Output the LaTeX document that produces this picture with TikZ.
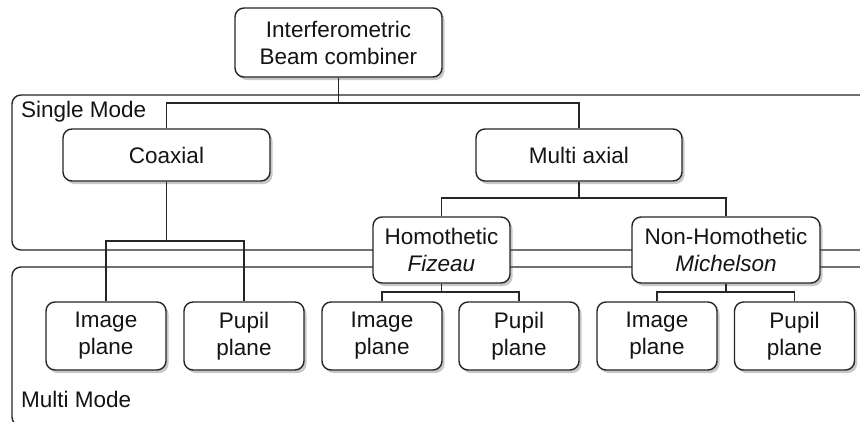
\documentclass[tikz,border=0pt]{standalone}
\usepackage{fontspec}
\setmainfont{Liberation Sans}
\usetikzlibrary{shadows}
\begin{document}
\begin{tikzpicture}[x={(1pt,0)},y={(0,-1pt)},
  line/.style={line width=1.4pt,draw=black!85},
  frame/.style={line width=1.4pt,draw=black!85,rounded corners=9pt},
  box/.style={draw=black!85,line width=1.4pt,fill=white,rounded corners=9pt,
    align=center,inner sep=0pt,text=black!92,
    font=\fontsize{22.5}{27}\selectfont,
    drop shadow={shadow xshift=2.5pt,shadow yshift=-3pt,opacity=0.3,fill=black!70}},
  lbl/.style={anchor=base west,inner sep=0pt,text=black!92,font=\fontsize{22.5}{27}\selectfont}]
\useasboundingbox (0,0) rectangle (860,421);
\fill[white] (0,0) rectangle (860,421);

% mode frames, open towards the right edge
\draw[frame] (880,95) -- (12,95) -- (12,250) -- (880,250);
\draw[frame] (880,267) -- (12,267) -- (12,426) -- (880,426);
\node[lbl] (sm) at (21,117) {Single Mode};
\node[lbl] (mm) at (21,407) {Multi Mode};

% junction points of the connectors
\coordinate (j0) at (338.5,103);
\coordinate (j1) at (166.5,241);
\coordinate (j2) at (579,198);
\coordinate (j3) at (441.5,292);
\coordinate (j4) at (726,292);

% boxes
\node[box,minimum width=207pt,minimum height=69pt] (top) at (338.5,42.5) {Interferometric\\Beam combiner};
\node[box,minimum width=207pt,minimum height=52pt] (coax) at (166.5,155) {Coaxial};
\node[box,minimum width=206pt,minimum height=52pt] (multi) at (579,155) {Multi axial};
\node[box,minimum width=137pt,minimum height=66pt] (homo) at (441.5,250) {Homothetic\\\itshape Fizeau};
\node[box,minimum width=188pt,minimum height=66pt] (nonhomo) at (726,250) {Non-Homothetic\\\itshape Michelson};
\foreach \n/\x/\t in {img1/106/Image, pup1/244/Pupil, img2/382/Image, pup2/519/Pupil, img3/657/Image, pup3/794.5/Pupil}
  \node[box,minimum width=120pt,minimum height=68pt] (\n) at (\x,336) {\t\\plane};

% connectors
\draw[line] (top.south) -- (j0);
\draw[line] (coax.north) |- (j0) -| (multi.north);
\draw[line] (coax.south) -- (j1);
\draw[line] (img1.north) |- (j1) -| (pup1.north);
\draw[line] (multi.south) -- (j2);
\draw[line] (homo.north) |- (j2) -| (nonhomo.north);
\draw[line] (homo.south) -- (j3);
\draw[line] (img2.north) |- (j3) -| (pup2.north);
\draw[line] (nonhomo.south) -- (j4);
\draw[line] (img3.north) |- (j4) -| (pup3.north);
\end{tikzpicture}
\end{document}
